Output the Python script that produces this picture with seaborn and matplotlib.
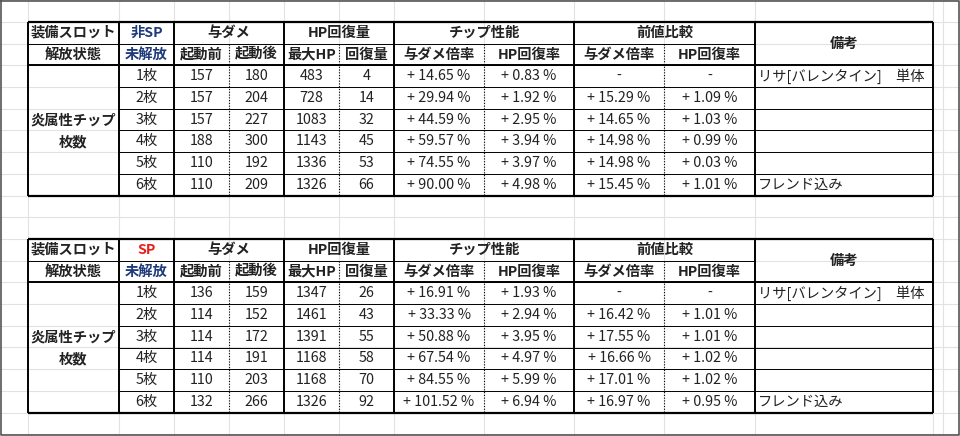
import matplotlib
matplotlib.use("Agg")
import matplotlib.pyplot as plt
import seaborn as sns

sns.set_theme(style="white", font="Noto Sans CJK JP")

counts = ["1枚", "2枚", "3枚", "4枚", "5枚", "6枚"]
# table 1 (非SP)
t1_dmg_before = [157, 157, 157, 188, 110, 110]
t1_dmg_after = [180, 204, 227, 300, 192, 209]
t1_maxhp = [483, 728, 1083, 1143, 1336, 1326]
t1_heal = [4, 14, 32, 45, 53, 66]
t1_dmg_rate = ["+ 14.65 %", "+ 29.94 %", "+ 44.59 %", "+ 59.57 %", "+ 74.55 %", "+ 90.00 %"]
t1_hp_rate = ["+ 0.83 %", "+ 1.92 %", "+ 2.95 %", "+ 3.94 %", "+ 3.97 %", "+ 4.98 %"]
t1_diff_dmg = ["-", "+ 15.29 %", "+ 14.65 %", "+ 14.98 %", "+ 14.98 %", "+ 15.45 %"]
t1_diff_hp = ["-", "+ 1.09 %", "+ 1.03 %", "+ 0.99 %", "+ 0.03 %", "+ 1.01 %"]
# table 2 (SP)
t2_dmg_before = [136, 114, 114, 114, 110, 132]
t2_dmg_after = [159, 152, 172, 191, 203, 266]
t2_maxhp = [1347, 1461, 1391, 1168, 1168, 1326]
t2_heal = [26, 43, 55, 58, 70, 92]
t2_dmg_rate = ["+ 16.91 %", "+ 33.33 %", "+ 50.88 %", "+ 67.54 %", "+ 84.55 %", "+ 101.52 %"]
t2_hp_rate = ["+ 1.93 %", "+ 2.94 %", "+ 3.95 %", "+ 4.97 %", "+ 5.99 %", "+ 6.94 %"]
t2_diff_dmg = ["-", "+ 16.42 %", "+ 17.55 %", "+ 16.66 %", "+ 17.01 %", "+ 16.97 %"]
t2_diff_hp = ["-", "+ 1.01 %", "+ 1.01 %", "+ 1.02 %", "+ 1.02 %", "+ 0.95 %"]
remarks = ["リサ[バレンタイン]　単体", "", "", "", "", "フレンド込み"]

fig = plt.figure(figsize=(9.6, 4.36), dpi=100)
ax = fig.add_axes([0, 0, 1, 1])
ax.set_xlim(0, 960)
ax.set_ylim(436, 0)
ax.axis("off")

X = [28, 119, 174, 229, 284, 339, 394, 484, 574, 664, 755, 933]
RH = 21.7
FS = 10.3

# background spreadsheet grid
for x in X + [943]:
    ax.plot([x, x], [0, 436], color="#e2e2e2", lw=0.8, zorder=0)
y = 0.3
while y < 436:
    ax.plot([0, 960], [y, y], color="#e2e2e2", lw=0.8, zorder=0)
    y += RH
ax.plot([1, 959, 959, 1, 1], [1, 1, 435, 435, 1], color="#555555", lw=1.2, zorder=1)


def line(x0, x1, y0, y1, lw=0.8, ls="-"):
    ax.plot([x0, x1], [y0, y1], color="black", lw=lw, ls=ls, zorder=3, solid_capstyle="butt")


def txt(x, y, s, bold=False, color="#222222", ha="center"):
    ax.text(x, y, s, ha=ha, va="center", fontsize=FS, color=color,
            fontweight="bold" if bold else "normal", zorder=4)


def table(top, sp_label, sp_color, db, da, mh, hl, dr, hr, dd, dh):
    R = [top + i * RH for i in range(9)]
    bot = R[8]
    for i in range(1, 8):
        line(X[1], X[11] if i > 2 else X[10], R[i], R[i], lw=0.7)
    line(X[1], X[11], R[2], R[2], lw=1.4)
    line(X[0], X[11], top, top, lw=1.6)
    line(X[0], X[11], bot, bot, lw=1.6)
    line(X[0], X[1], R[1], R[1], lw=0.7)
    line(X[0], X[1], R[2], R[2], lw=1.4)
    for x in [X[0], X[1], X[2], X[4], X[6], X[8], X[10], X[11]]:
        line(x, x, top, bot, lw=1.4)
    for x in [X[3], X[5], X[7], X[9]]:
        line(x, x, R[1], bot, lw=0.8, ls=(0, (1, 1.5)))
    cx = [(X[i] + X[i + 1]) / 2 for i in range(11)]
    ym = lambda i: (R[i] + R[i + 1]) / 2
    txt(cx[0], ym(0), "装備スロット", bold=True)
    txt(cx[1], ym(0), sp_label, bold=True, color=sp_color)
    txt((X[2] + X[4]) / 2, ym(0), "与ダメ", bold=True)
    txt((X[4] + X[6]) / 2, ym(0), "HP回復量", bold=True)
    txt((X[6] + X[8]) / 2, ym(0), "チップ性能", bold=True)
    txt((X[8] + X[10]) / 2, ym(0), "前値比較", bold=True)
    txt(cx[10], R[1], "備考", bold=True)
    txt(cx[0], ym(1), "解放状態", bold=True)
    txt(cx[1], ym(1), "未解放", bold=True, color="#1f3a7a")
    for j, s in enumerate(["起動前", "起動後", "最大HP", "回復量", "与ダメ倍率", "HP回復率", "与ダメ倍率", "HP回復率"]):
        txt(cx[2 + j], ym(1), s, bold=True)
    txt(cx[0], (R[2] + bot) / 2 - 10, "炎属性チップ", bold=True)
    txt(cx[0], (R[2] + bot) / 2 + 12, "枚数", bold=True)
    for k in range(6):
        yy = ym(k + 2)
        vals = [counts[k], db[k], da[k], mh[k], hl[k], dr[k], hr[k], dd[k], dh[k]]
        for j, v in enumerate(vals):
            txt(cx[1 + j], yy, str(v))
        if remarks[k]:
            txt(X[10] + 3, yy, remarks[k], ha="left")


table(22, "非SP", "#1f3a7a", t1_dmg_before, t1_dmg_after, t1_maxhp, t1_heal,
      t1_dmg_rate, t1_hp_rate, t1_diff_dmg, t1_diff_hp)
table(239, "SP", "#e8201a", t2_dmg_before, t2_dmg_after, t2_maxhp, t2_heal,
      t2_dmg_rate, t2_hp_rate, t2_diff_dmg, t2_diff_hp)

fig.savefig("out.png", dpi=100, facecolor="white")
